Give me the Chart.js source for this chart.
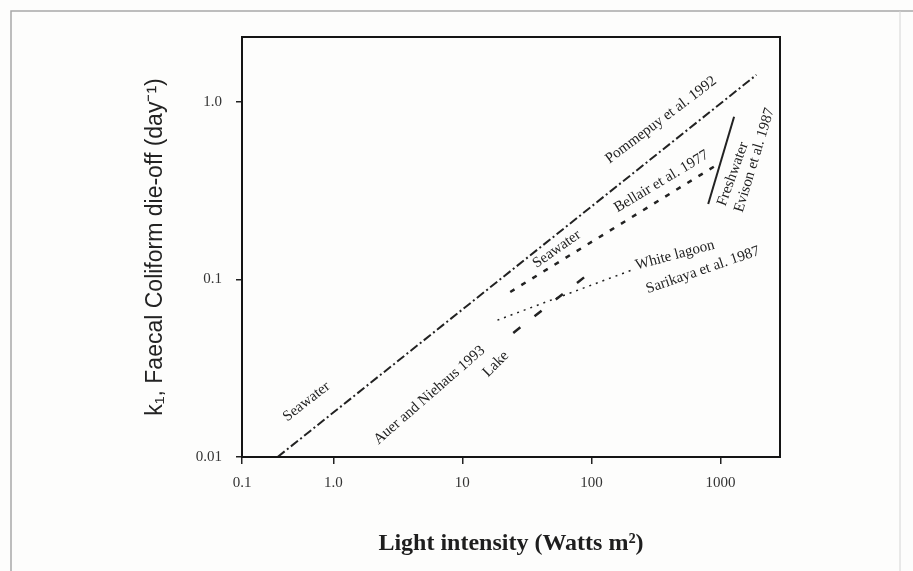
<!DOCTYPE html>
<html>
<head>
<meta charset="utf-8">
<title>Faecal coliform die-off vs light intensity</title>
<script src="https://cdn.jsdelivr.net/npm/chart.js@4.4.1/dist/chart.umd.min.js"></script>
<style>
  html, body { margin: 0; padding: 0; background: #fdfdfc; }
  #wrap { position: relative; width: 913px; height: 571px; }
  canvas { display: block; }
</style>
</head>
<body>
<div id="wrap"><canvas id="chart" width="913" height="571"></canvas></div>
<script>
// Die-off rate k1 (day^-1) against light intensity (W m^-2), log-log.
// Each study is a fitted straight line given by its two end points.
const seawaterPommepuyLight = [0.37, 1900];
const seawaterPommepuyK     = [0.01, 1.42];

const seawaterBellairLight  = [23.5, 906];
const seawaterBellairK      = [0.085, 0.435];

const lakeAuerLight         = [24.8, 92.7];
const lakeAuerK             = [0.05, 0.106];

const lagoonSarikayaLight   = [18.7, 206];
const lagoonSarikayaK       = [0.059, 0.113];

const freshwaterEvisonLight = [804, 1276];
const freshwaterEvisonK     = [0.266, 0.824];

// Axis ranges and ticks
const lightAxisStart = 0.196;
const lightAxisEnd   = 2895;
const kAxisStart     = 0.01;
const kAxisEnd       = 2.32;

const lightTickValues = [lightAxisStart, 1, 10, 100, 1000];
const lightTickLabels = ['0.1', '1.0', '10', '100', '1000'];
const kTickValues     = [0.01, 0.1, 1];
const kTickLabels     = ['0.01', '0.1', '1.0'];

const INK = '#222222';
const SERIF = "'Liberation Serif', 'Times New Roman', serif";
const SANS = "'Liberation Sans', Arial, sans-serif";

function points(xs, ys) {
  return xs.map((x, i) => ({ x: x, y: ys[i] }));
}

function lineSet(label, xs, ys, dash, width) {
  return {
    label: label,
    data: points(xs, ys),
    showLine: true,
    borderColor: INK,
    backgroundColor: INK,
    borderWidth: width,
    borderDash: dash,
    borderCapStyle: 'butt',
    pointRadius: 0,
    pointHoverRadius: 0,
    fill: false
  };
}

// Rotated labels written along the lines (data coordinates, angle in degrees)
const lineLabels = [
  { text: 'Seawater',              x: 0.62, y: 0.0205, angle: -38 },
  { text: 'Pommepuy et al. 1992',  x: 346,  y: 0.79,   angle: -37 },
  { text: 'Seawater',              x: 54,   y: 0.148,  angle: -35 },
  { text: 'Bellair et al. 1977',   x: 349,  y: 0.356,  angle: -31 },
  { text: 'Freshwater',            x: 1250, y: 0.392,  angle: -70 },
  { text: 'Evison et al. 1987',    x: 1835, y: 0.47,   angle: -73 },
  { text: 'White lagoon',          x: 444,  y: 0.137,  angle: -15 },
  { text: 'Sarikaya et al. 1987',  x: 731,  y: 0.113,  angle: -19 },
  { text: 'Auer and Niehaus 1993', x: 5.56, y: 0.0223, angle: -41 },
  { text: 'Lake',                  x: 18.2, y: 0.0334, angle: -45 }
];

const lineLabelPlugin = {
  id: 'lineLabels',
  afterDatasetsDraw(chart) {
    const ctx = chart.ctx;
    const xs = chart.scales.x, ys = chart.scales.y;
    ctx.save();
    ctx.fillStyle = INK;
    ctx.font = '15px ' + SERIF;
    ctx.textAlign = 'center';
    ctx.textBaseline = 'middle';
    lineLabels.forEach(l => {
      ctx.save();
      ctx.translate(xs.getPixelForValue(l.x), ys.getPixelForValue(l.y));
      ctx.rotate(l.angle * Math.PI / 180);
      ctx.fillText(l.text, 0, 0);
      ctx.restore();
    });
    ctx.restore();
  }
};

// Closed box round the plot area plus the thin page frame
const framePlugin = {
  id: 'frames',
  beforeDraw(chart) {
    const ctx = chart.ctx;
    ctx.save();
    ctx.fillStyle = '#fdfdfc';
    ctx.fillRect(0, 0, chart.width, chart.height);
    ctx.strokeStyle = '#a8a8a8';
    ctx.lineWidth = 1.5;
    ctx.beginPath();
    ctx.moveTo(11, 571);
    ctx.lineTo(11, 11);
    ctx.lineTo(913, 11);
    ctx.stroke();
    ctx.strokeStyle = '#d4d4d4';
    ctx.lineWidth = 1;
    ctx.beginPath();
    ctx.moveTo(900, 11);
    ctx.lineTo(900, 571);
    ctx.stroke();
    ctx.restore();
  },
  afterDraw(chart) {
    const a = chart.chartArea;
    const ctx = chart.ctx;
    ctx.save();
    ctx.strokeStyle = '#151515';
    ctx.lineWidth = 2;
    ctx.strokeRect(a.left, a.top, a.right - a.left, a.bottom - a.top);
    ctx.restore();
  }
};

new Chart(document.getElementById('chart'), {
  type: 'scatter',
  data: {
    datasets: [
      lineSet('Seawater, Pommepuy et al. 1992', seawaterPommepuyLight, seawaterPommepuyK, [9, 3, 2, 3], 2),
      lineSet('Seawater, Bellair et al. 1977', seawaterBellairLight, seawaterBellairK, [5, 8], 2.5),
      lineSet('Lake, Auer and Niehaus 1993', lakeAuerLight, lakeAuerK, [9, 18], 2.5),
      lineSet('White lagoon, Sarikaya et al. 1987', lagoonSarikayaLight, lagoonSarikayaK, [2, 5], 1.5),
      lineSet('Freshwater, Evison et al. 1987', freshwaterEvisonLight, freshwaterEvisonK, [], 2)
    ]
  },
  options: {
    responsive: false,
    animation: false,
    devicePixelRatio: 1,
    layout: { padding: { left: 0, top: 37, right: 133, bottom: 0 } },
    plugins: {
      legend: { display: false },
      tooltip: { enabled: false }
    },
    scales: {
      x: {
        type: 'logarithmic',
        min: lightAxisStart,
        max: lightAxisEnd,
        afterBuildTicks: s => { s.ticks = lightTickValues.map(v => ({ value: v })); },
        afterFit: s => { s.height = 114; },
        ticks: {
          autoSkip: false,
          maxRotation: 0,
          padding: 10,
          color: '#333333',
          font: { family: SERIF, size: 15 },
          callback: (v, i) => lightTickLabels[i]
        },
        grid: { drawOnChartArea: false, drawTicks: true, tickLength: 7, color: INK, lineWidth: 1.5 },
        border: { display: true, color: '#151515', width: 2 },
        title: {
          display: true,
          text: 'Light intensity (Watts m²)',
          color: '#1e1e1e',
          font: { family: SERIF, size: 24, weight: 'bold' },
          padding: { top: 0, bottom: 13 }
        }
      },
      y: {
        type: 'logarithmic',
        min: kAxisStart,
        max: kAxisEnd,
        afterBuildTicks: s => { s.ticks = kTickValues.map(v => ({ value: v })); },
        afterFit: s => { s.width = 242; },
        ticks: {
          autoSkip: false,
          padding: 14,
          color: '#333333',
          font: { family: SERIF, size: 15 },
          callback: (v, i) => kTickLabels[i]
        },
        grid: { drawOnChartArea: false, drawTicks: true, tickLength: 6, color: INK, lineWidth: 1.5 },
        border: { display: true, color: '#151515', width: 2 },
        title: {
          display: true,
          text: 'k\u2081, Faecal Coliform die-off (day\u207B\u00B9)',
          color: '#222222',
          font: { family: SANS, size: 23 },
          padding: { top: 142, bottom: 0 }
        }
      }
    }
  },
  plugins: [framePlugin, lineLabelPlugin]
});
</script>
</body>
</html>
